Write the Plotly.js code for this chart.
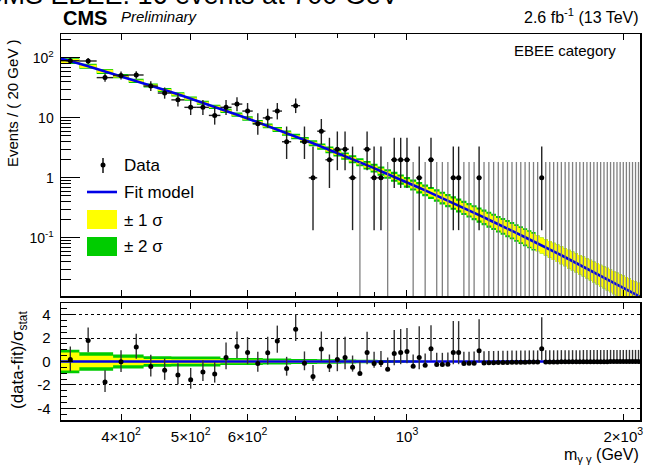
<!DOCTYPE html>
<html><head><meta charset="utf-8">
<script src="https://cdn.plot.ly/plotly-3.0.1.min.js"></script>
<style>body{margin:0;padding:0;background:#fff}#chart{width:647px;height:466px}</style>
</head><body><div id="chart"></div>
<script>
// ---- data ----
const binCenter = [340,360,380,400,420,440,460,480,500,520,540,560,580,600,620,640,660,680,700,720,740,760,780,800,820,840,860,880,900,920,940,960,980,1000,1020,1040,1060,1080,1100,1120,1140,1160,1180,1200,1220,1240,1260,1280,1300,1320,1340,1360,1380,1400,1420,1440,1460,1480,1500,1520,1540,1560,1580,1600,1620,1640,1660,1680,1700,1720,1740,1760,1780,1800,1820,1840,1860,1880,1900,1920,1940,1960,1980,2000,2020,2040,2060,2080,2100];
const dataCounts = [90,89,47,51,52,34,26,20,15,15,11,15,17,13,8,10,13,4,16,4,1,6,2,3,3,1,0,3,1,1,0,2,2,2,0,1,0,2,0,0,0,1,1,0,0,0,1,
  0,0,0,0,0,0,0,0,0,0,0,0,0,1,0,0,0,0,0,0,0,0,0,0,0,0,0,0,0,0,0,0,0,0,0,0,0,0,0,0,0,0];
const fitValues = [89,72.5,59.7,49.6,41.4,34.7,29.2,24.7,21.0,17.9,15.3,13.1,11.3,9.76,8.46,7.34,6.39,5.58,4.89,4.29,3.77,3.32,2.93,2.59,2.30,2.04,1.82,1.62,1.45,1.29,1.16,1.04,0.935,0.841,0.758,0.684,0.618,0.559,0.507,0.459,0.417,0.379,0.345,0.314,0.287,0.262,0.239,0.219,0.200,0.184,0.168,0.155,0.142,0.131,0.120,0.111,0.102,0.0944,0.0872,0.0806,0.0745,0.0690,0.0639,0.0592,0.0549,0.0510,0.0473,0.0440,0.0409,0.0380,0.0354,0.0330,0.0308,0.0287,0.0268,0.0250,0.0233,0.0218,0.0204,0.0191,0.0179,0.0167,0.0157,0.0147,0.0138,0.0129,0.0121,0.0114,0.0107];
const fitEndMass = [330, 2110];
const fitEndValues = [97, 0.0104];
// half widths of the uncertainty bands in the upper panel (decades)
const band1Dex = [0.034,0.027,0.027,0.020,0.020,0.017,0.017,0.018,0.018,0.018,0.018,0.018,0.018,0.019,0.019,0.020,0.021,0.022,0.023,0.024,0.026,0.028,0.030,0.032,0.034,0.036,0.038,0.040,0.042,0.044,0.046,0.048,0.050,0.053,0.056,0.059,0.062,0.065,0.068,0.071,0.074,0.077,0.080,0.083,0.086,0.089,0.092,0.095,0.098,0.101,0.104,0.107,0.110,0.113,0.116,0.119,0.122,0.125,0.128,0.131,0.134,0.137,0.140,0.143,0.146,0.149,0.152,0.155,0.158,0.161,0.164,0.167,0.170,0.173,0.176,0.179,0.182,0.185,0.188,0.191,0.194,0.197,0.200,0.203,0.206,0.209,0.212,0.215,0.218];
const band2Dex = [0.048,0.042,0.042,0.035,0.035,0.032,0.032,0.035,0.035,0.035,0.035,0.036,0.036,0.037,0.037,0.040,0.042,0.044,0.046,0.048,0.050,0.053,0.056,0.059,0.062,0.065,0.068,0.071,0.074,0.077,0.080,0.083,0.086,0.089,0.092,0.095,0.098,0.101,0.104,0.107,0.110,0.113,0.116,0.119,0.122,0.125,0.128,0.131,0.134,0.136,0.138,0.140,0.142,0.144,0.146,0.148,0.150,0.152,0.154,0.131,0.134,0.137,0.140,0.143,0.146,0.149,0.152,0.155,0.158,0.161,0.164,0.167,0.170,0.173,0.176,0.179,0.182,0.185,0.188,0.191,0.194,0.197,0.200,0.203,0.206,0.209,0.212,0.215,0.218];
const residuals = [0.17,1.8,-1.75,-0.03,1.23,-0.43,-0.75,-1.15,-1.55,-0.89,-1.06,0.34,1.29,0.77,-0.17,0.75,1.75,-0.6,2.75,-0.14,-1.29,1.06,-0.4,0.17,0.34,-0.49,-1.03,0.77,-0.17,-0.1,-0.66,0.69,0.77,0.86,-0.4,0.34,-0.31,1.09,-0.26,-0.26,-0.23,0.77,0.77,-0.17,-0.16,-0.14,0.92,
  -0.12,-0.11,-0.1,-0.09,-0.09,-0.08,-0.07,-0.07,-0.06,-0.06,-0.05,-0.05,-0.05,1.1,-0.04,-0.04,-0.04,-0.04,-0.03,-0.03,-0.03,-0.03,-0.03,-0.03,-0.02,-0.02,-0.02,-0.02,-0.02,-0.02,-0.02,-0.02,-0.01,-0.01,-0.01,-0.01,-0.01,-0.01,-0.01,-0.01,-0.01,-0.01];
const resBand1 = [0.76,0.5,0.5,0.32,0.32,0.22,0.22,0.2,0.2,0.2,0.2,0.15,0.15,0.15,0.15,0.12,0.12,0.12,0.12,0.12,0.12,0.1,0.1,0.1,0.1,0.09,0.09,0.08,0.08,0.07,0.07,0.06,0.06,0.05,0.05,0.04,0.04,0.03,0.03,0.03,0.02,0.02,0.02,0.02,0.02,0.02,0.02,
  0.01,0.01,0.01,0.01,0.01,0.01,0.01,0.01,0.01,0.01,0.01,0.01,0.01,0.01,0.01,0.01,0.01,0.01,0.01,0.01,0.01,0.01,0.01,0.01,0.01,0.01,0.01,0.01,0.01,0.01,0.01,0.01,0.01,0.01,0.01,0.01,0.01,0.01,0.01,0.01,0.01,0.01];
const resBand2 = [1.0,0.8,0.8,0.6,0.6,0.45,0.45,0.42,0.42,0.42,0.42,0.3,0.3,0.3,0.3,0.25,0.25,0.25,0.22,0.22,0.22,0.2,0.2,0.2,0.18,0.17,0.16,0.15,0.14,0.13,0.12,0.11,0.1,0.09,0.08,0.07,0.06,0.05,0.05,0.04,0.04,0.03,0.03,0.03,0.03,0.03,0.03,
  0.02,0.02,0.02,0.02,0.02,0.02,0.02,0.02,0.02,0.02,0.02,0.02,0.02,0.02,0.02,0.02,0.02,0.02,0.02,0.02,0.02,0.02,0.02,0.02,0.02,0.02,0.02,0.02,0.02,0.02,0.02,0.02,0.02,0.02,0.02,0.02,0.02,0.02,0.02,0.02,0.02,0.02];
const xTickVals = [400,500,600,1000,2000];
const xTickText = ['4×10<sup>2</sup>','5×10<sup>2</sup>','6×10<sup>2</sup>','10<sup>3</sup>','2×10<sup>3</sup>'];
const xMinorVals = [700,800,900];
const yTickVals = [0.1,1,10,100];
const yTickText = ['10<sup>-1</sup>','1','10','10<sup>2</sup>'];
const yMinorVals = [0.02,0.03,0.04,0.05,0.06,0.07,0.08,0.09,0.2,0.3,0.4,0.5,0.6,0.7,0.8,0.9,2,3,4,5,6,7,8,9,20,30,40,50,60,70,80,90,200];
const resTickVals = [-4,-2,0,2,4];
const resMinorVals = [-4.5,-3.5,-3,-2.5,-1.5,-1,-0.5,0.5,1,1.5,2.5,3,3.5,4.5];

// ---- helpers ----
const HALF = 10;
const FONT = 'Liberation Sans, Arial, Helvetica, sans-serif';
const edges = binCenter.map(c => c - HALF).concat([binCenter[binCenter.length-1] + HALF]);
const step = arr => arr.concat([arr[arr.length-1]]);
const pLow = n => n === 0 ? 0 : Math.sqrt(n - 0.25);
const pUp = n => n === 0 ? 1.841 : Math.sqrt(n + 0.75) + 1;

const traces = [];
function bandPair(lo, hi, color, xa, ya){
  traces.push({x: edges, y: step(lo), xaxis: xa, yaxis: ya, mode: 'lines', line: {shape: 'hv', width: 0, color: color}, hoverinfo: 'skip', showlegend: false});
  traces.push({x: edges, y: step(hi), xaxis: xa, yaxis: ya, mode: 'lines', line: {shape: 'hv', width: 0, color: color}, fill: 'tonexty', fillcolor: color, hoverinfo: 'skip', showlegend: false});
}
bandPair(fitValues.map((f,i)=>f*Math.pow(10,-band2Dex[i])), fitValues.map((f,i)=>f*Math.pow(10,band2Dex[i])), '#00cc00', 'x', 'y');
bandPair(fitValues.map((f,i)=>f*Math.pow(10,-band1Dex[i])), fitValues.map((f,i)=>f*Math.pow(10,band1Dex[i])), '#ffff00', 'x', 'y');
traces.push({x: [fitEndMass[0]].concat(binCenter, [fitEndMass[1]]), y: [fitEndValues[0]].concat(fitValues, [fitEndValues[1]]),
  xaxis: 'x', yaxis: 'y', mode: 'lines', line: {color: '#0000e6', width: 2.6}, showlegend: false});
const zx = [], zy = [], zup = [];
const nx = [], ny = [], nup = [], nlo = [];
binCenter.forEach((c,i)=>{
  const n = dataCounts[i];
  if (n === 0){ zx.push(c); zy.push(1e-4); zup.push(pUp(0) - 1e-4); }
  else { nx.push(c); ny.push(n); nup.push(pUp(n)); nlo.push(pLow(n)); }
});
traces.push({x: zx, y: zy, xaxis: 'x', yaxis: 'y', mode: 'markers', marker: {size: 1, color: 'rgba(0,0,0,0)'},
  error_y: {type: 'data', symmetric: false, array: zup, arrayminus: zup.map(()=>0), color: '#808080', thickness: 1.3, width: 0}, showlegend: false});
traces.push({x: nx, y: ny, xaxis: 'x', yaxis: 'y', mode: 'markers', marker: {size: 5, color: '#000'},
  error_y: {type: 'data', symmetric: false, array: nup, arrayminus: nlo, color: '#222', thickness: 1.4, width: 0},
  error_x: {type: 'data', array: nx.map(()=>HALF), color: '#222', thickness: 1.4, width: 0}, showlegend: false});

bandPair(resBand2.map(v=>-v), resBand2, '#00cc00', 'x2', 'y2');
bandPair(resBand1.map(v=>-v), resBand1, '#ffff00', 'x2', 'y2');
traces.push({x: fitEndMass, y: [0,0], xaxis: 'x2', yaxis: 'y2', mode: 'lines', line: {color: '#0000e6', width: 2.4}, showlegend: false});
const rUp = [], rLo = [];
binCenter.forEach((c,i)=>{
  const n = dataCounts[i], r = residuals[i];
  if (r >= 0){ rUp.push(pUp(n)/pLow(n)); rLo.push(1); }
  else { rUp.push(1); rLo.push(pLow(n)/pUp(n)); }
});
traces.push({x: binCenter, y: residuals, xaxis: 'x2', yaxis: 'y2', mode: 'markers', marker: {size: 5, color: '#000'},
  error_y: {type: 'data', symmetric: false, array: rUp, arrayminus: rLo, color: '#333', thickness: 1.4, width: 0}, showlegend: false});

// ---- layout ----
const T = 34, B = 420, H = B - T;
const py = p => (B - p) / H;
const px = p => (p - 61) / 579;
const xr = [Math.log10(330), Math.log10(2110)];
const axCommon = {showline: true, linecolor: '#000', linewidth: 1.5, mirror: 'allticks', ticks: 'inside', tickcolor: '#000', showgrid: false, zeroline: false, fixedrange: true};
const layout = {
  width: 647, height: 466, margin: {l: 61, r: 7, t: T, b: 466 - B, pad: 0},
  paper_bgcolor: '#fff', plot_bgcolor: '#fff', showlegend: false, hovermode: false,
  font: {family: FONT, color: '#000'},
  xaxis: Object.assign({}, axCommon, {type: 'log', range: xr, anchor: 'y', domain: [0,1], tickmode: 'array', tickvals: xTickVals, ticktext: xTickText, showticklabels: false, ticklen: 6,
    minor: {tickmode: 'array', tickvals: xMinorVals, ticklen: 4, ticks: 'inside', tickcolor: '#000'}}),
  yaxis: Object.assign({}, axCommon, {type: 'log', range: [-1.972, 2.40], anchor: 'x', domain: [py(296), 1], tickmode: 'array', tickvals: yTickVals, ticktext: yTickText, ticklen: 19, mirror: true,
    tickfont: {size: 14, family: FONT}, ticklabelstandoff: 3,
    minor: {tickmode: 'array', tickvals: yMinorVals, ticklen: 10, ticks: 'inside', tickcolor: '#000'}}),
  xaxis2: Object.assign({}, axCommon, {type: 'log', range: xr, anchor: 'y2', domain: [0,1], tickmode: 'array', tickvals: xTickVals, ticktext: xTickText, ticklen: 6,
    tickfont: {size: 15, family: FONT}, ticklabelstandoff: 2,
    minor: {tickmode: 'array', tickvals: xMinorVals, ticklen: 4, ticks: 'inside', tickcolor: '#000'}}),
  yaxis2: Object.assign({}, axCommon, {range: [-5, 5], anchor: 'x2', domain: [0, py(303)], tickmode: 'array', tickvals: resTickVals, ticktext: ['-4','-2','0','2','4'], ticklen: 12, mirror: true,
    showgrid: true, gridcolor: '#000', gridwidth: 1, griddash: 'dot', tickfont: {size: 15, family: FONT}, ticklabelstandoff: 6,
    minor: {tickmode: 'array', tickvals: resMinorVals, ticklen: 6, ticks: 'inside', tickcolor: '#000'}}),
  shapes: [
    {type: 'line', xref: 'paper', yref: 'paper', x0: px(103), x1: px(103), y0: py(158), y1: py(173), line: {color: '#000', width: 1.4}},
    {type: 'circle', xref: 'paper', yref: 'paper', x0: px(100.5), x1: px(105.5), y0: py(162.5), y1: py(167.5), fillcolor: '#000', line: {color: '#000', width: 0}},
    {type: 'line', xref: 'paper', yref: 'paper', x0: px(87), x1: px(117), y0: py(192), y1: py(192), line: {color: '#0000e6', width: 2.6}},
    {type: 'rect', xref: 'paper', yref: 'paper', x0: px(87), x1: px(117), y0: py(229), y1: py(210), fillcolor: '#ffff00', line: {width: 0}},
    {type: 'rect', xref: 'paper', yref: 'paper', x0: px(87), x1: px(117), y0: py(256), y1: py(237), fillcolor: '#00cc00', line: {width: 0}}
  ],
  annotations: [
    {text: 'CMS EBEE: 16 events at 700 GeV', xref: 'paper', yref: 'paper', x: px(-19), y: py(-5), xanchor: 'left', yanchor: 'middle', showarrow: false, font: {size: 27, family: FONT}},
    {text: '<b>CMS</b>', xref: 'paper', yref: 'paper', x: px(61), y: py(18), xanchor: 'left', yanchor: 'middle', showarrow: false, font: {size: 20, family: FONT}},
    {text: '<i>Preliminary</i>', xref: 'paper', yref: 'paper', x: px(119), y: py(16), xanchor: 'left', yanchor: 'middle', showarrow: false, font: {size: 15, family: FONT}},
    {text: '2.6 fb<sup>-1</sup> (13 TeV)', xref: 'paper', yref: 'paper', x: px(641), y: py(16), xanchor: 'right', yanchor: 'middle', showarrow: false, font: {size: 16, family: FONT}},
    {text: 'EBEE category', xref: 'paper', yref: 'paper', x: px(565), y: py(50), xanchor: 'center', yanchor: 'middle', showarrow: false, font: {size: 15, family: FONT}},
    {text: 'Data', xref: 'paper', yref: 'paper', x: px(122), y: py(165), xanchor: 'left', yanchor: 'middle', showarrow: false, font: {size: 17, family: FONT}},
    {text: 'Fit model', xref: 'paper', yref: 'paper', x: px(122), y: py(192), xanchor: 'left', yanchor: 'middle', showarrow: false, font: {size: 17, family: FONT}},
    {text: '± 1 σ', xref: 'paper', yref: 'paper', x: px(122), y: py(220), xanchor: 'left', yanchor: 'middle', showarrow: false, font: {size: 17, family: FONT}},
    {text: '± 2 σ', xref: 'paper', yref: 'paper', x: px(122), y: py(247), xanchor: 'left', yanchor: 'middle', showarrow: false, font: {size: 17, family: FONT}},
    {text: 'Events / ( 20 GeV )', xref: 'paper', yref: 'paper', x: px(13), y: py(103), xanchor: 'center', yanchor: 'middle', textangle: -90, showarrow: false, font: {size: 15, family: FONT}},
    {text: '(data-fit)/σ<sub>stat</sub>', xref: 'paper', yref: 'paper', x: px(19), y: py(360), xanchor: 'center', yanchor: 'middle', textangle: -90, showarrow: false, font: {size: 17, family: FONT}},
    {text: 'm<sub>γ γ</sub> (GeV)', xref: 'paper', yref: 'paper', x: px(641), y: py(456), xanchor: 'right', yanchor: 'middle', showarrow: false, font: {size: 16, family: FONT}}
  ]
};
Plotly.newPlot('chart', traces, layout, {staticPlot: true, displayModeBar: false});
</script>
</body></html>
